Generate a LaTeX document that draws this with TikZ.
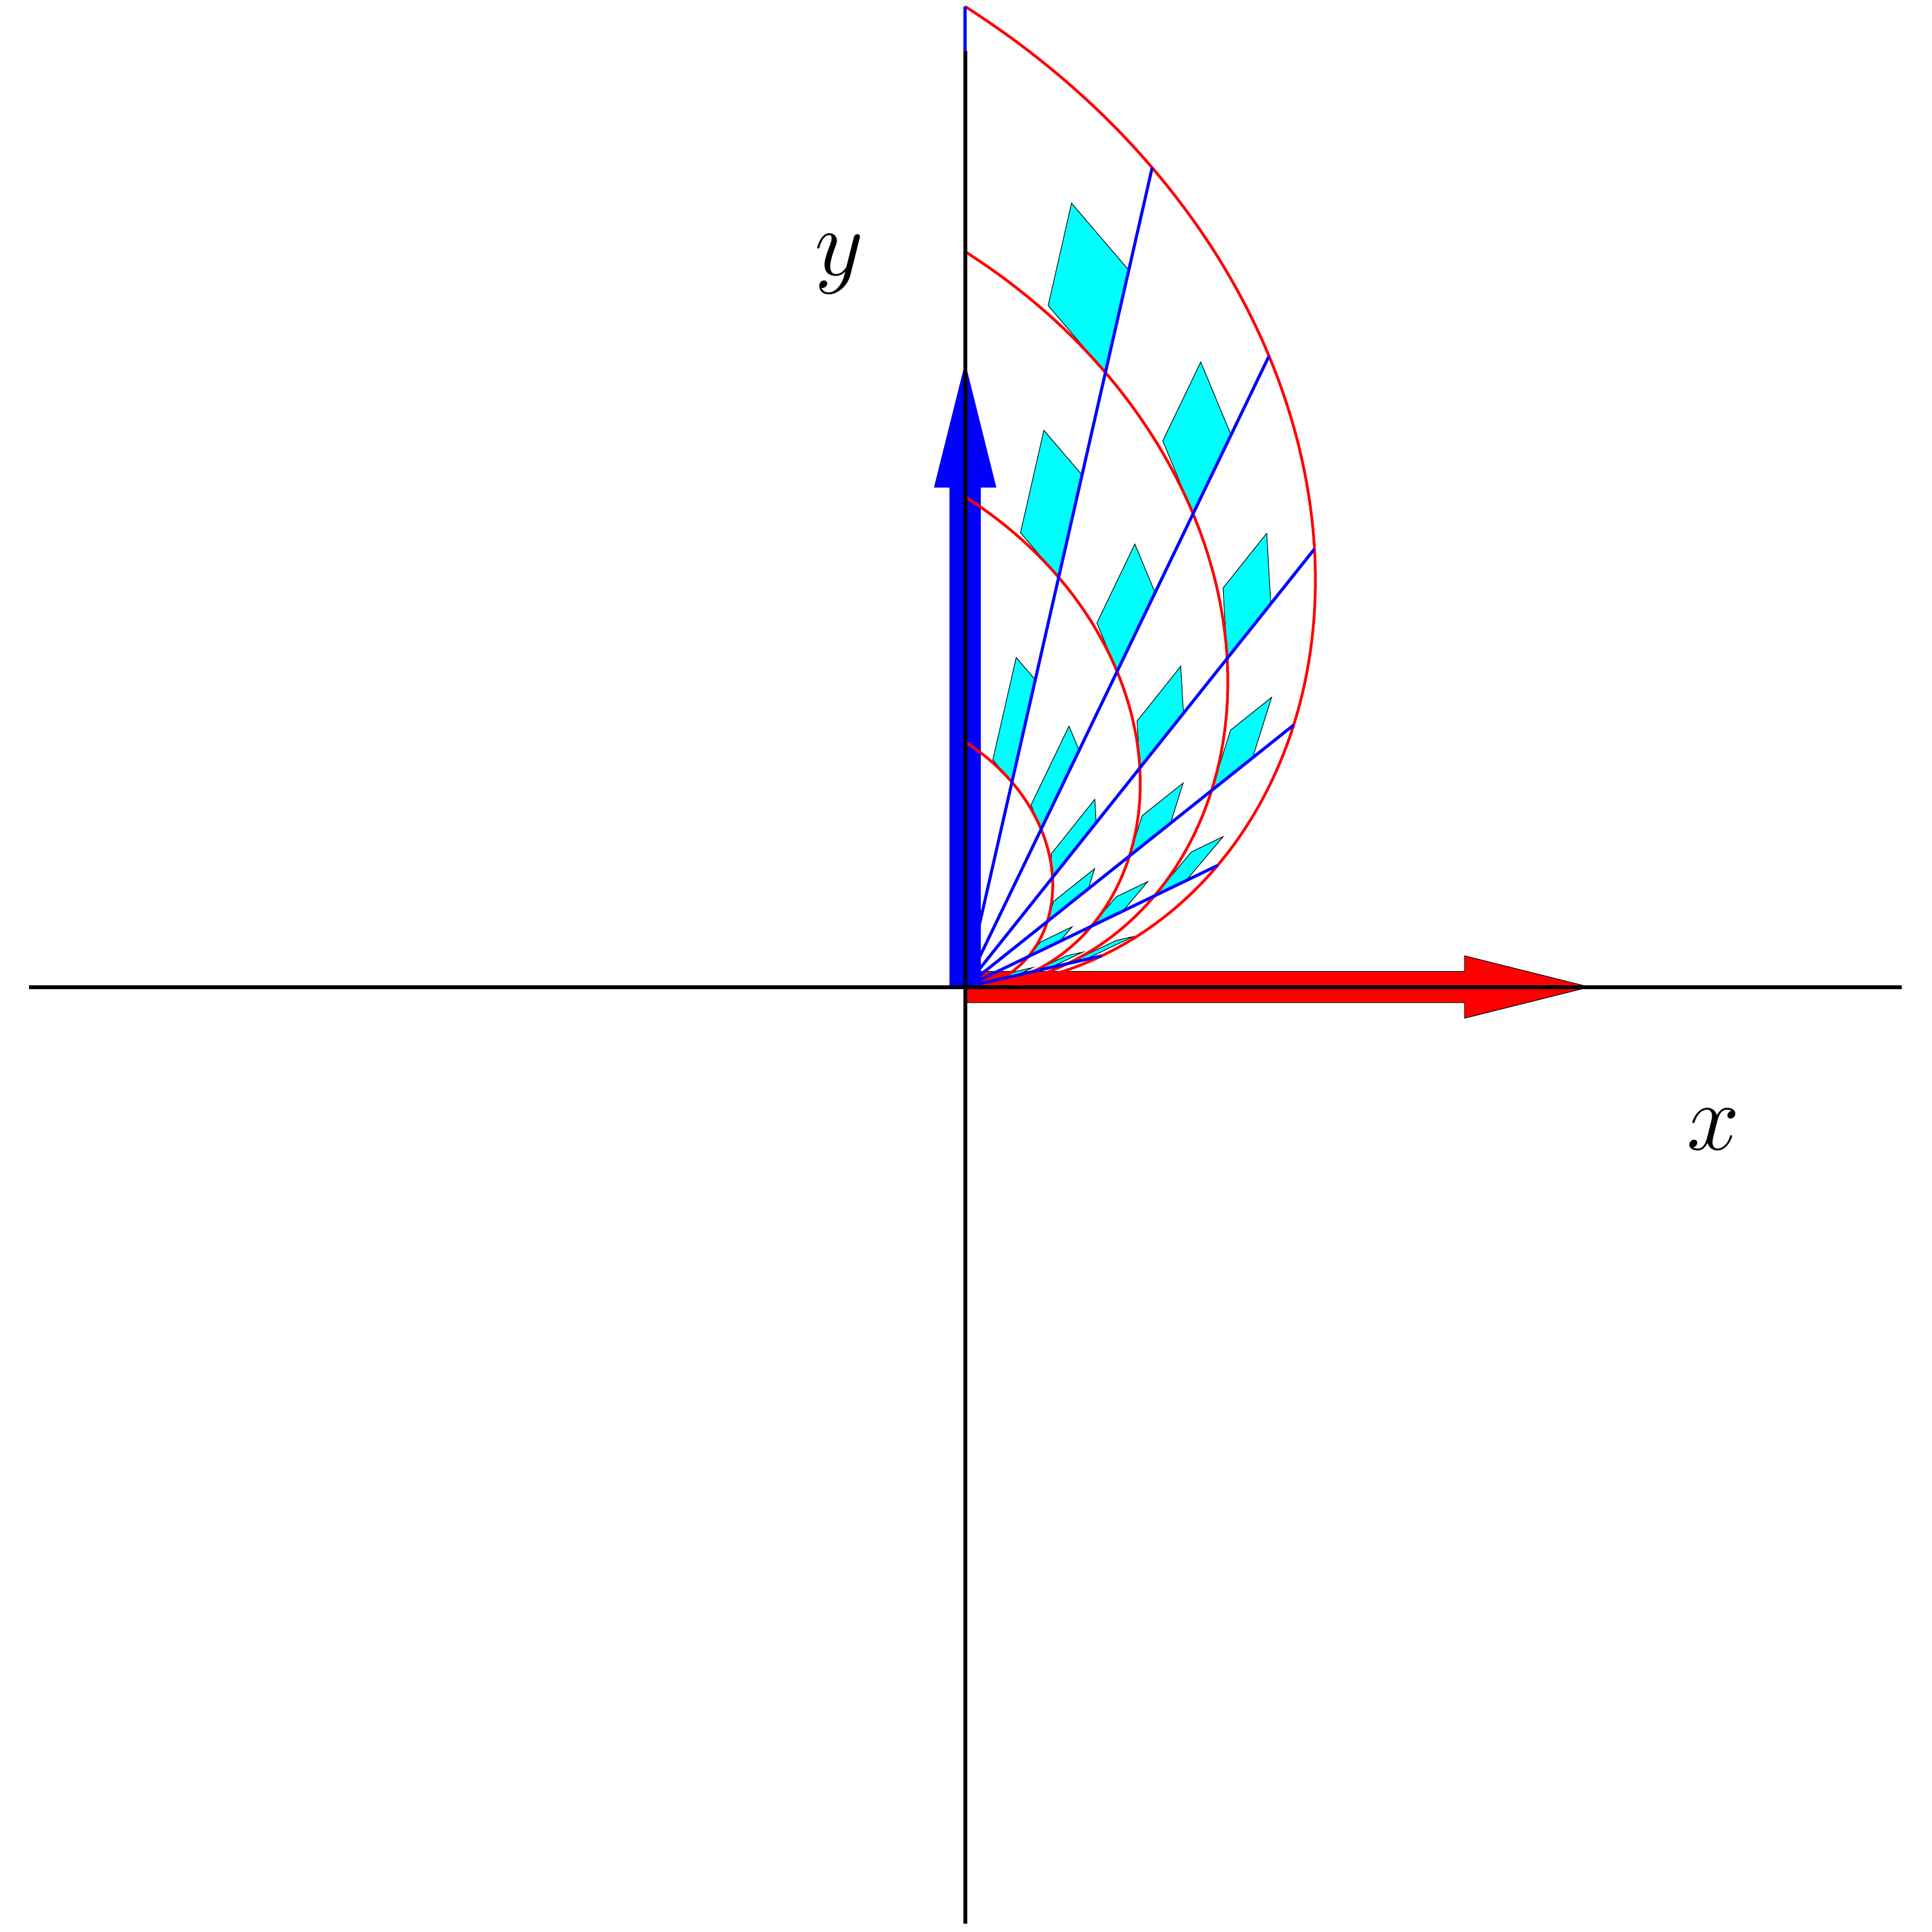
\documentclass[tikz,border=0pt]{standalone}
\definecolor{cyanfill}{RGB}{0,255,255}
\definecolor{pureblue}{RGB}{0,0,255}
\definecolor{purered}{RGB}{255,0,0}
\begin{document}
\begin{tikzpicture}[x=4cm,y=4cm,
  axisline/.style={black, line width=0.7pt},
  spiral/.style={purered, line width=0.5pt},
  rayline/.style={pureblue, line width=0.55pt},
  patch/.style={fill=cyanfill, draw=black, line width=0.12pt},
  redvec/.style={fill=purered, draw=black, line width=0.12pt},
  bluevec/.style={fill=pureblue},
  lbl/.style={font=\fontsize{18.6}{22}\selectfont, inner sep=0pt, anchor=base}]
\useasboundingbox (-1.5462,-1.5138) rectangle (1.5489,1.5812);
\coordinate (O) at (0,0);
% basis vectors
\filldraw[redvec] (0,-0.025) -- (0.8,-0.025) -- (0.8,-0.05) -- (1,0) -- (0.8,0.05) -- (0.8,0.025) -- (0,0.025) -- cycle;
\fill[bluevec] (-0.025,0) -- (-0.025,0.8) -- (-0.05,0.8) -- (0,1) -- (0.05,0.8) -- (0.025,0.8) -- (0.025,0) -- cycle;
% image parallelograms
\foreach \k in {1,...,6}{
  \foreach \j in {1,2,3}{
    \pgfmathsetmacro\t{\k*90/7}
    \pgfmathsetmacro\tr{\t*pi/180}
    \pgfmathsetmacro\r{\j/4}
    \pgfmathsetmacro\px{\r*\tr*cos(\t)}
    \pgfmathsetmacro\py{\r*\tr*sin(\t)}
    \pgfmathsetmacro\ax{0.125*\tr*cos(\t)}
    \pgfmathsetmacro\ay{0.125*\tr*sin(\t)}
    \pgfmathsetmacro\bx{(pi/28)*\r*(cos(\t)-\tr*sin(\t))}
    \pgfmathsetmacro\by{(pi/28)*\r*(sin(\t)+\tr*cos(\t))}
    \filldraw[patch] (\px,\py) -- ++(\ax,\ay) -- ++(\bx,\by) -- ++(-\ax,-\ay) -- cycle;
  }
}
% spirals r = const
\foreach \r in {0.25,0.5,0.75,1}{
  \draw[spiral] plot[domain=0:90, samples=120, smooth] ({\r*\x*pi/180*cos(\x)},{\r*\x*pi/180*sin(\x)});
}
% rays theta = const
\foreach \k in {1,...,7}{
  \pgfmathsetmacro\t{\k*90/7}
  \coordinate (ray\k) at ({\t*pi/180*cos(\t)},{\t*pi/180*sin(\t)});
  \draw[rayline] (O) -- (ray\k);
}
% axes
\coordinate (xl) at (-1.5,0);
\coordinate (xr) at (1.5,0);
\coordinate (yb) at (0,-1.5);
\coordinate (yt) at (0,1.5);
\draw[axisline] (xl) -- (xr);
\draw[axisline] (yb) -- (yt);
% labels
\node[lbl] (ylab) at (-0.202,1.1397) {$y$};
\node[lbl] (xlab) at (1.1986,-0.2613) {$x$};
\end{tikzpicture}
\end{document}
